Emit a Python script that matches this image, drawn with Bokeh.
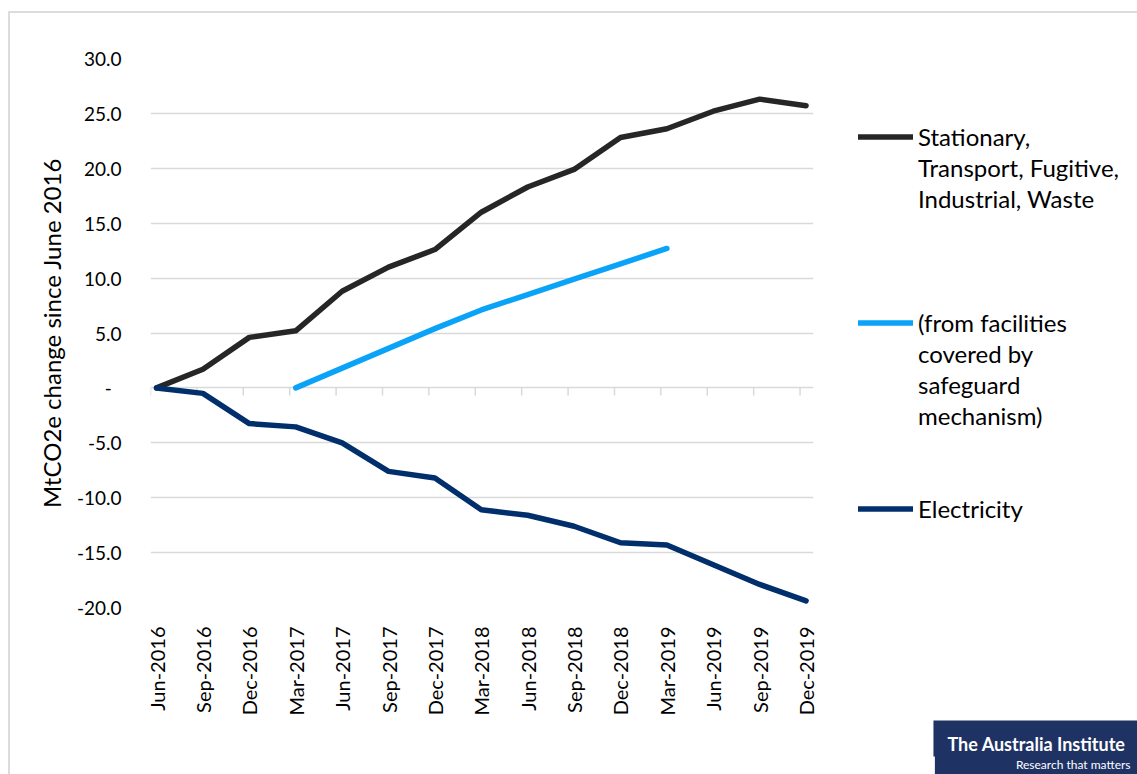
import numpy as np
from bokeh.plotting import figure
from bokeh.models import (FixedTicker, CustomJSTickFormatter, Legend, LegendItem,
                          Title, Range1d)
from bokeh.embed import file_html
from bokeh.resources import INLINE

months = ["Jun-2016", "Sep-2016", "Dec-2016", "Mar-2017", "Jun-2017", "Sep-2017",
          "Dec-2017", "Mar-2018", "Jun-2018", "Sep-2018", "Dec-2018", "Mar-2019",
          "Jun-2019", "Sep-2019", "Dec-2019"]
stationary = [0.0, 1.7, 4.6, 5.2, 8.8, 11.0, 12.6, 16.0, 18.3, 19.9, 22.8, 23.6, 25.2, 26.3, 25.7]
safeguard_months = ["Mar-2017", "Jun-2017", "Sep-2017", "Dec-2017", "Mar-2018",
                    "Jun-2018", "Sep-2018", "Dec-2018", "Mar-2019"]
safeguard = [0.0, 1.8, 3.6, 5.4, 7.1, 8.5, 9.9, 11.3, 12.7]
electricity = [0.0, -0.5, -3.25, -3.55, -5.0, -7.6, -8.2, -11.1, -11.6, -12.6, -14.1, -14.3, -16.1, -17.9, -19.4]
y_ticks = [-20, -15, -10, -5, 0, 5, 10, 15, 20, 25, 30]

label_stationary = ["Stationary,", "Transport, Fugitive,", "Industrial, Waste"]
label_safeguard = ["(from facilities", "covered by", "safeguard", "mechanism)"]
label_electricity = ["Electricity"]

C_DARK = "#262626"
C_BLUE = "#0AA3F7"
C_NAVY = "#002F6C"
GRID = "#d9d9d9"
LOGO = "#1E3264"
FONT = "Lato"

xs = np.arange(len(months))
xs_safe = np.array([months.index(m) for m in safeguard_months])

p = figure(frame_width=663, frame_height=549,
           min_border_left=140, min_border_right=324,
           min_border_top=45, min_border_bottom=167,
           x_range=Range1d(-0.13, 14.16), y_range=Range1d(-20, 30),
           output_backend="svg", toolbar_location=None)
p.styles = {"margin-left": "8px", "margin-top": "11px",
            "border-left": "2px solid #dcdcdc", "border-top": "2px solid #dcdcdc"}
p.outline_line_color = None
p.background_fill_color = "white"
p.border_fill_color = "white"

# axes
p.xaxis.ticker = FixedTicker(ticks=list(range(len(months))))
p.xaxis.major_label_overrides = {i: m for i, m in enumerate(months)}
p.xaxis.major_label_orientation = np.pi / 2
p.xaxis.axis_line_color = None
p.xaxis.major_tick_line_color = None
p.xaxis.minor_tick_line_color = None
p.xaxis.major_label_standoff = 13
p.xaxis.major_label_text_font = FONT
p.xaxis.major_label_text_font_size = "20px"
p.xaxis.major_label_text_color = "#000000"

p.yaxis.ticker = FixedTicker(ticks=y_ticks)
p.yaxis.formatter = CustomJSTickFormatter(
    code="return tick == 0 ? '-\\u00a0\\u00a0' : tick.toFixed(1);")
p.yaxis.axis_line_color = None
p.yaxis.major_tick_line_color = None
p.yaxis.minor_tick_line_color = None
p.yaxis.major_label_standoff = 23
p.yaxis.major_label_text_font = FONT
p.yaxis.major_label_text_font_size = "19px"
p.yaxis.major_label_text_color = "#000000"
p.yaxis.axis_label = "MtCO2e change since June 2016"
p.yaxis.axis_label_text_font = FONT
p.yaxis.axis_label_text_font_size = "24px"
p.yaxis.axis_label_text_font_style = "normal"
p.yaxis.axis_label_text_color = "#000000"
p.yaxis.axis_label_standoff = 8

p.xgrid.visible = False
p.ygrid.grid_line_color = GRID
p.ygrid.grid_line_width = 1.5

# small tick marks along the zero line
p.segment(x0=xs - 0.13, y0=0, x1=xs - 0.13, y1=-0.7, line_color=GRID, line_width=1.5)

r_stat = p.line(xs, stationary, line_color=C_DARK, line_width=5.5,
                line_cap="round", line_join="round")
r_safe = p.line(xs_safe, safeguard, line_color=C_BLUE, line_width=5.5,
                line_cap="round", line_join="round")
r_elec = p.line(xs, electricity, line_color=C_NAVY, line_width=5.5,
                line_cap="round", line_join="round")
r_blank = p.line(x=[], y=[], line_alpha=0)

items = []
for group, rend, gap in ((label_stationary, r_stat, 3), (label_safeguard, r_safe, 2),
                         (label_electricity, r_elec, 0)):
    items.append(LegendItem(label=group[0], renderers=[rend]))
    for t in group[1:]:
        items.append(LegendItem(label=t, renderers=[r_blank]))
    for _ in range(gap):
        items.append(LegendItem(label=" ", renderers=[r_blank]))

legend = Legend(items=items, location=(45, 83), padding=0, spacing=0, margin=0,
                glyph_width=55, glyph_height=31, label_height=31, label_standoff=5,
                label_text_font=FONT, label_text_font_size="24px",
                label_text_color="#000000",
                border_line_color=None, background_fill_alpha=0)
p.add_layout(legend, "right")

# logo block (credit)
t1 = Title(text="The Australia Institute", align="right", offset=-342, standoff=0,
           text_color="white", text_font=FONT,
           text_font_size="18px", text_font_style="bold",
           background_fill_color=LOGO,
           padding=dict(left=14, right=30, top=12, bottom=2))
t2 = Title(text="Research that matters", align="right", offset=-342, standoff=-5,
           text_color="white", text_font=FONT,
           text_font_size="12px", text_font_style="normal",
           background_fill_color=LOGO,
           padding=dict(left=81, right=25, top=1, bottom=14))
p.add_layout(t1, "below")
p.add_layout(t2, "below")

open("out.html", "w").write(file_html(p, INLINE))
